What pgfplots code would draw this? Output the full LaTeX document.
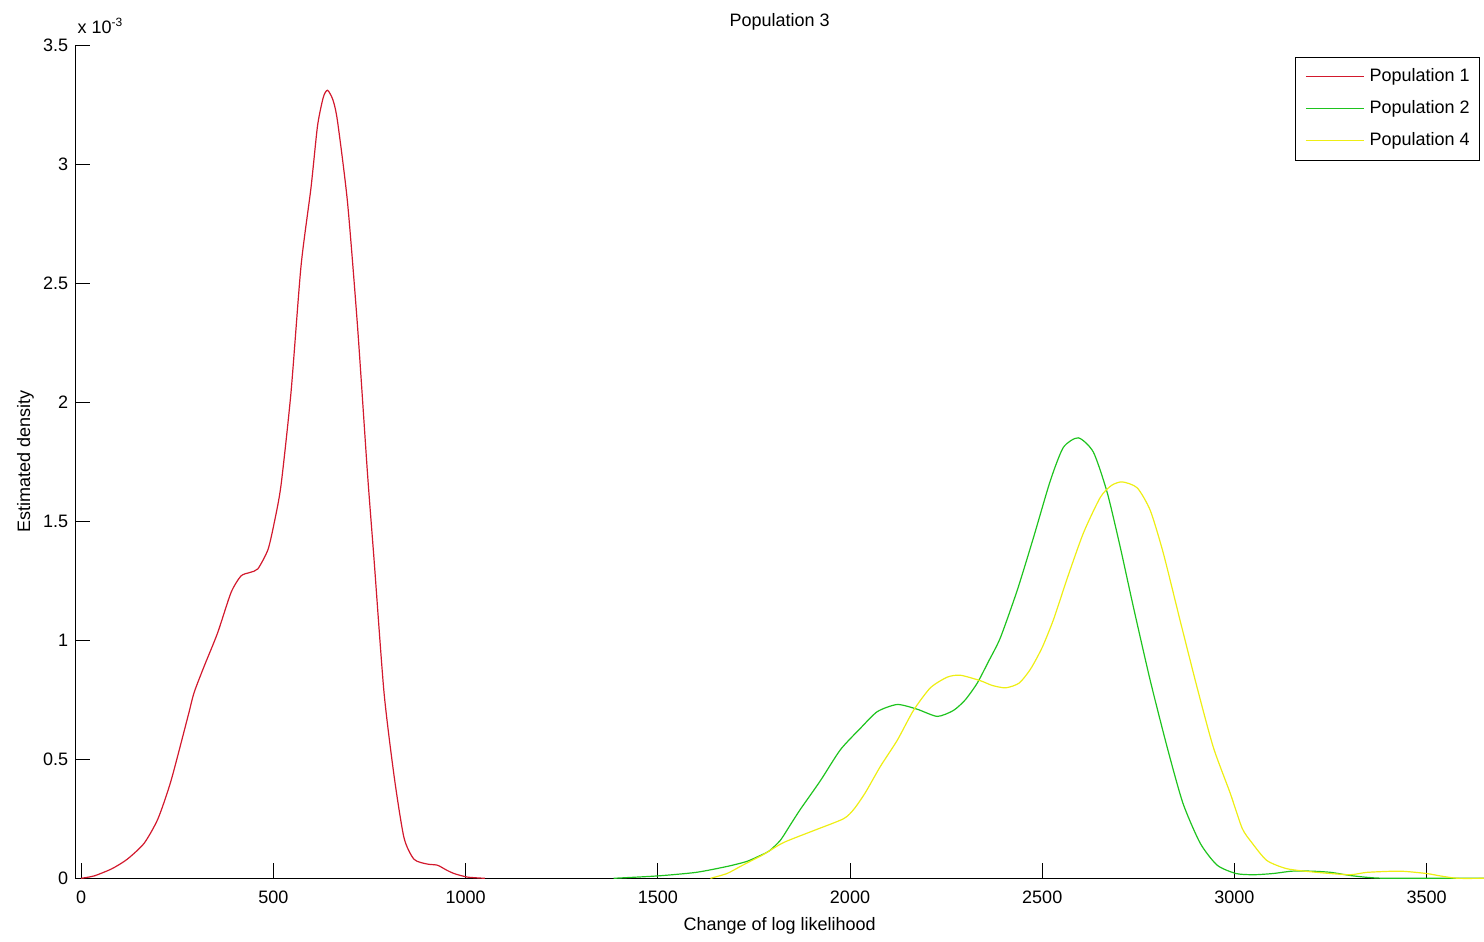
\documentclass[border=0pt]{standalone}
\usepackage{pgfplots}
\pgfplotsset{compat=1.18}
\usepackage{fontspec}
\setmainfont{Liberation Sans}
\definecolor{cred}{RGB}{210,25,45}
\definecolor{cgreen}{RGB}{30,195,30}
\definecolor{cyellow}{RGB}{238,238,20}
\begin{document}
\begin{tikzpicture}[font=\fontsize{9}{10.8}\selectfont]
\begin{axis}[name=ax, scale only axis, width=704.35pt, height=416.65pt,
  xmin=-15, xmax=3649, ymin=0, ymax=3.5, clip=false,
  axis x line=bottom, axis y line=left,
  axis line style={-, black, line width=0.5pt},
  tick align=inside, major tick length=7.5pt,
  tick style={black, line width=0.5pt},
  xtick={0,500,1000,1500,2000,2500,3000,3500},
  ytick={0,0.5,1,1.5,2,2.5,3,3.5},
  /pgf/number format/assume math mode=true,
  /pgf/number format/1000 sep={},
  xticklabel style={yshift=-3pt},
  title={Population 3},
  title style={at={(axis description cs:0.5,1.0072)}, anchor=base, inner sep=0pt},
  xlabel={Change of log likelihood},
  xlabel style={at={(axis description cs:0.5,-0.0384)}, anchor=north},
  ylabel={Estimated density},
  ylabel style={at={(axis description cs:-0.032,0.5)}, anchor=base, inner sep=0pt},
  legend cell align=left,
  legend style={at={(axis description cs:0.99716,0.9856)}, anchor=north east,
    fill=white,
    inner xsep=5pt, inner ysep=5.5pt, row sep=7.5pt, column sep=2.5pt,
    nodes={inner sep=0pt, text height=6.6pt, text depth=1.9pt}},
  legend image code/.code={\draw[#1, line width=0.75pt] (0pt,0.25pt) -- (29pt,0.25pt);},
]
\addplot[color=cred, line width=0.6pt, smooth, tension=0.4] coordinates {
(0,0) (34,0.01) (80,0.04) (120,0.08) (164,0.147) (200,0.25) (234,0.41)
(278,0.68) (294,0.78) (320,0.89) (355,1.03) (390,1.20) (416,1.27)
(440,1.285) (460,1.30) (486,1.38) (502,1.49) (520,1.65) (546,2.04)
(572,2.57) (598,2.90) (615,3.16) (630,3.28) (641,3.31) (655,3.27)
(667,3.18) (693,2.84) (719,2.32) (745,1.70) (762,1.34) (788,0.78)
(815,0.42) (840,0.17) (866,0.08) (900,0.06) (927,0.055) (950,0.035)
(970,0.02) (1005,0.005) (1050,0)
};
\addlegendentry{Population 1}
\addplot[color=cgreen, line width=0.6pt, smooth, tension=0.4] coordinates {
(1385,0) (1500,0.01) (1600,0.025) (1681,0.05) (1730,0.07) (1759,0.09)
(1790,0.115) (1819,0.16) (1845,0.225) (1871,0.29) (1923,0.41) (1975,0.54)
(2027,0.63) (2071,0.70) (2123,0.73) (2175,0.71) (2227,0.68) (2269,0.705)
(2300,0.75) (2331,0.82) (2360,0.91) (2391,1.01) (2435,1.21) (2477,1.43)
(2521,1.67) (2555,1.81) (2594,1.85) (2633,1.79) (2669,1.62) (2703,1.39)
(2737,1.14) (2781,0.83) (2825,0.55) (2866,0.315) (2911,0.147)
(2955,0.055) (3004,0.02) (3050,0.015) (3100,0.02) (3150,0.03)
(3200,0.03) (3250,0.025) (3300,0.012) (3345,0.004) (3400,0) (3649,0)
};
\addlegendentry{Population 2}
\addplot[color=cyellow, line width=0.6pt, smooth, tension=0.4] coordinates {
(1637,0) (1680,0.02) (1715,0.05) (1745,0.075) (1775,0.10) (1827,0.15)
(1905,0.20) (1983,0.25) (2010,0.29) (2040,0.36) (2079,0.47) (2123,0.58)
(2165,0.705) (2209,0.80) (2253,0.845) (2287,0.853) (2339,0.83)
(2370,0.81) (2405,0.80) (2440,0.82) (2470,0.88) (2500,0.97) (2530,1.09)
(2565,1.26) (2607,1.45) (2651,1.60) (2680,1.65) (2708,1.665)
(2747,1.64) (2781,1.545) (2815,1.365) (2859,1.08) (2903,0.80) (2945,0.55)
(2989,0.357) (3020,0.21) (3045,0.15) (3084,0.075) (3137,0.04)
(3214,0.025) (3300,0.015) (3345,0.025) (3430,0.03) (3500,0.02)
(3535,0.01) (3580,0) (3649,0)
};
\addlegendentry{Population 4}
\end{axis}
\node[anchor=base west, inner sep=0pt] at ([xshift=1pt,yshift=5.5pt]ax.north west) {x 10\textsuperscript{-3}};
\pgfresetboundingbox
\path[use as bounding box] ([xshift=-37.65pt,yshift=-31.85pt]ax.south west) rectangle ([yshift=22.5pt]ax.north east);
\end{tikzpicture}
\end{document}
